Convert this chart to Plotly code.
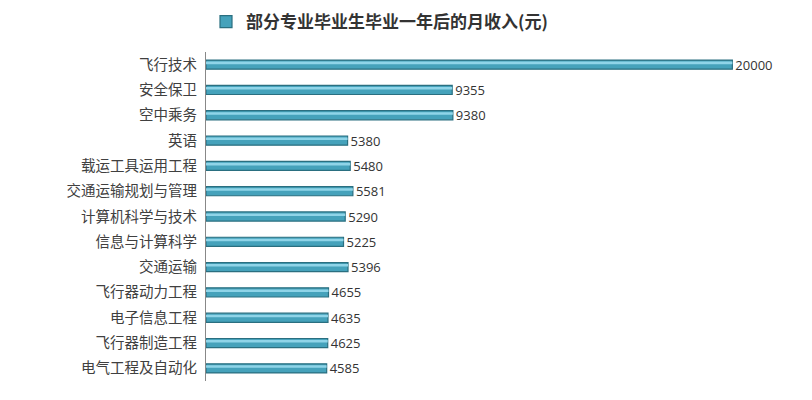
import plotly.graph_objects as go

majors = ["飞行技术", "安全保卫", "空中乘务", "英语", "载运工具运用工程", "交通运输规划与管理",
          "计算机科学与技术", "信息与计算科学", "交通运输", "飞行器动力工程", "电子信息工程",
          "飞行器制造工程", "电气工程及自动化"]
income = [20000, 9355, 9380, 5380, 5480, 5581, 5290, 5225, 5396, 4655, 4635, 4625, 4585]
series_name = "部分专业毕业生毕业一年后的月收入(元)"

fig = go.Figure()
fig.add_trace(go.Bar(
    y=majors, x=income, orientation="h", name=series_name,
    marker=dict(color="#45a2bb", line=dict(color="#2a6f80", width=1.2)),
    width=0.36,
    text=[str(v) for v in income], textposition="outside", constraintext="none",
    textfont=dict(family="Open Sans, Arial", size=13, color="#333333"),
    cliponaxis=False,
))
# cylinder highlight band
fig.add_trace(go.Bar(
    y=majors, x=income, orientation="h", showlegend=False, hoverinfo="skip",
    marker=dict(color="#8fd4e8", line=dict(width=0)),
    width=0.1, offset=-0.12,
))

fig.update_layout(
    width=812, height=400,
    margin=dict(l=198, r=35, t=44, b=27),
    paper_bgcolor="white", plot_bgcolor="white",
    barmode="overlay",
    showlegend=True,
    legend=dict(orientation="h", x=0.0, xref="paper", y=0.965, yref="container",
                xanchor="left", yanchor="middle",
                font=dict(family="Noto Sans CJK SC", size=17, color="#333333", weight="bold"),
                itemwidth=30),
    xaxis=dict(range=[0, 22000], visible=False, showgrid=False, zeroline=False),
    yaxis=dict(autorange="reversed", showline=True, linecolor="#888888", linewidth=1,
               ticks="", ticklabelstandoff=5,
               tickfont=dict(family="Noto Sans CJK SC", size=14.5, color="#404040")),
    font=dict(family="Noto Sans CJK SC"),
)

fig.write_html("out.html")
